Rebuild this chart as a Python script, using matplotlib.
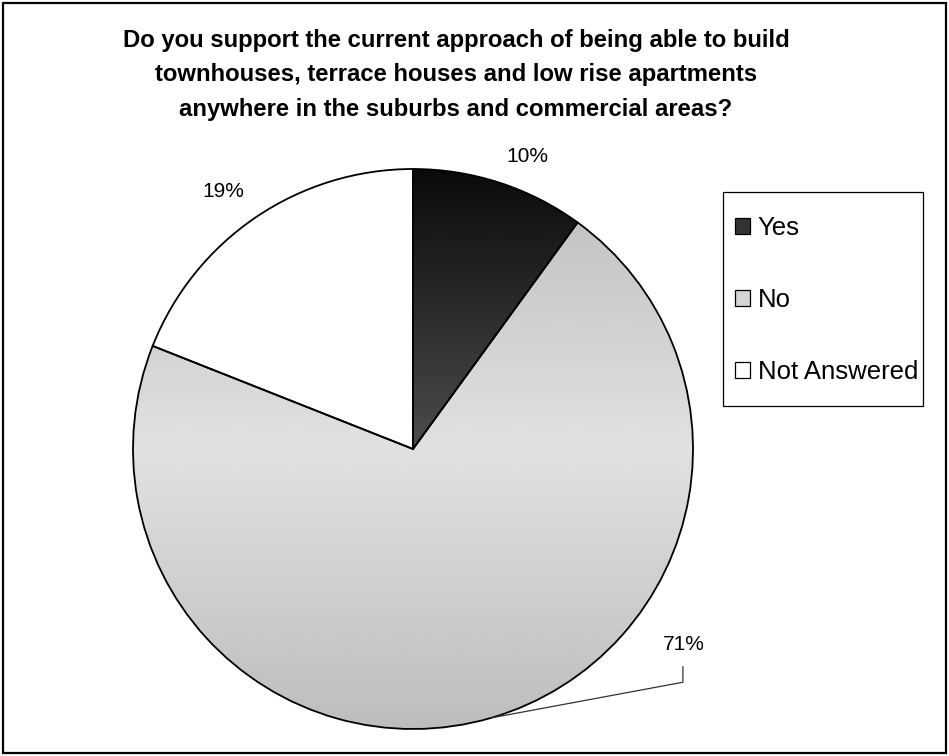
import numpy as np
import matplotlib.pyplot as plt
from matplotlib.patches import Patch, Rectangle

plt.rcParams['font.family'] = ['Liberation Sans', 'DejaVu Sans']

labels = ['Yes', 'No', 'Not Answered']
values = [10, 71, 19]
title = ('Do you support the current approach of being able to build\n'
         'townhouses, terrace houses and low rise apartments\n'
         'anywhere in the suburbs and commercial areas?')

# grey shades for each slice: (edge of pie, middle of pie)
shades = [(0.04, 0.30), (0.74, 0.88), (1.0, 1.0)]
# where the percentage labels sit, in pie radius units
label_pos = [(0.407, 1.043), (0.968, -0.700), (-0.679, 0.918)]

W, H = 949, 756
fig = plt.figure(figsize=(W / 100, H / 100), dpi=100)
fig.patch.set_facecolor('white')
fig.patches.append(Rectangle((3 / W, 3 / H), 943 / W, 750 / H, transform=fig.transFigure,
                             fill=False, edgecolor='black', linewidth=1.6))

cx, cy, r = 413, 449, 280
ax = fig.add_axes([(cx - r) / W, (H - cy - r) / H, 2 * r / W, 2 * r / H])

wedges, texts, autotexts = ax.pie(values, startangle=90, counterclock=False,
                                  autopct='%1.0f%%',
                                  wedgeprops=dict(facecolor='none', edgecolor='black', linewidth=1.3),
                                  textprops=dict(fontsize=15))
ax.set_xlim(-1, 1)
ax.set_ylim(-1, 1)

# vertical gradient, light in the middle and darker towards top and bottom
yy = np.linspace(1, -1, 400)[:, None] * np.ones((1, 10))
for w, (dark, light) in zip(wedges, shades):
    img = light + (dark - light) * np.abs(yy)
    im = ax.imshow(img, cmap='gray', vmin=0, vmax=1, extent=[-1, 1, -1, 1],
                   aspect='auto', interpolation='bilinear', zorder=0)
    im.set_clip_path(w)

for t, p in zip(autotexts, label_pos):
    t.set_position(p)
    t.set_ha('center')
    t.set_va('center')

# the big slice's label sits off to the side with a leader line
w = wedges[1]
mid = np.deg2rad((w.theta1 + w.theta2) / 2)
lx, ly = label_pos[1]
ax.plot([np.cos(mid), lx - 0.004, lx - 0.004], [np.sin(mid), ly - 0.133, ly - 0.078],
        color='#333333', linewidth=0.9, clip_on=False)

handles = [Patch(facecolor=c, edgecolor='black', linewidth=0.9)
           for c in ['#333333', '#d4d4d4', 'white']]
fig.patches.append(Rectangle((723 / W, 1 - 406 / H), 200 / W, 214 / H, transform=fig.transFigure,
                             fill=False, edgecolor='black', linewidth=0.9))
fig.legend(handles, labels, loc='upper left', bbox_to_anchor=(735 / W, 1 - 216 / H),
           fontsize=18.5, frameon=False, handlelength=0.58, handleheight=0.58,
           handletextpad=0.31, labelspacing=1.86, borderpad=0, borderaxespad=0)

fig.text(456 / W, 1 - 75 / H, title, ha='center', va='center', fontsize=17.2,
         fontweight='bold', linespacing=1.64)

fig.savefig('out.png', dpi=100)
